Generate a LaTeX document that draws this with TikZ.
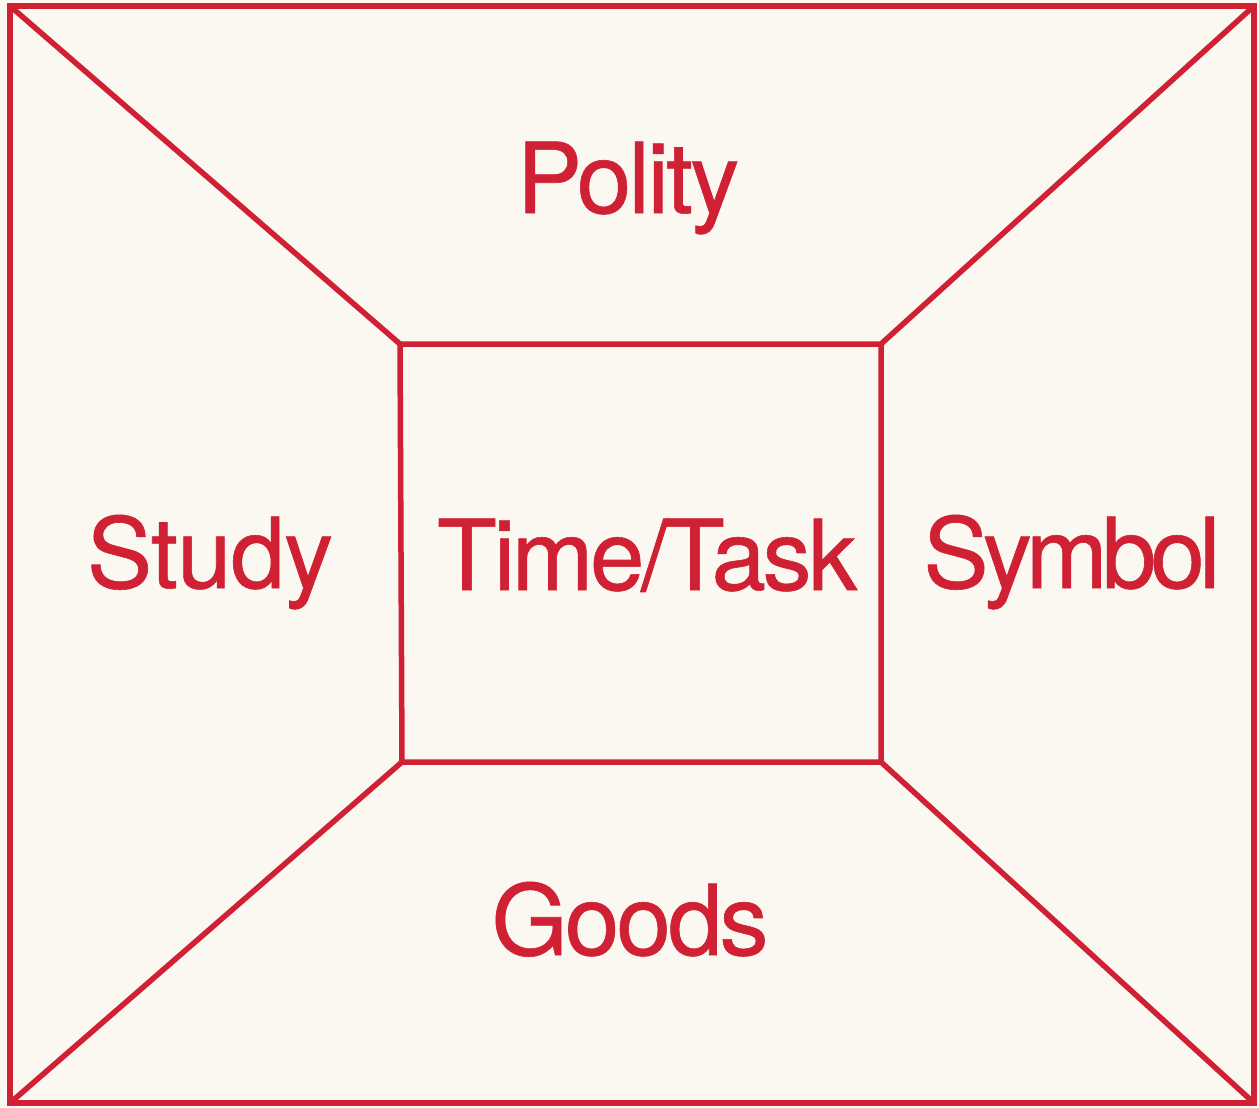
\documentclass[tikz,border=0pt]{standalone}
\usepackage{fontspec}
\setmainfont{TeX Gyre Heros}[FakeBold=0.6]
\definecolor{inkred}{RGB}{208,32,52}
\definecolor{paper}{RGB}{251,248,242}
\newcommand{\tracked}[2]{\addfontfeatures{LetterSpace=#1}#2}
\begin{document}
\begin{tikzpicture}[x=1pt,y=-1pt,
  frame/.style={draw=inkred,line width=5.5pt,line join=miter},
  label/.style={text=inkred,font=\fontsize{98}{98}\selectfont,anchor=base,inner sep=0pt}]
\fill[paper] (0,0) rectangle (1259,1108);
\useasboundingbox (0,0) rectangle (1259,1108);
% outer frame corners
\coordinate (o1) at (10,6);
\coordinate (o2) at (1254,6);
\coordinate (o3) at (1254,1103);
\coordinate (o4) at (10,1103);
% inner box corners
\coordinate (i1) at (400,344);
\coordinate (i2) at (881,344);
\coordinate (i3) at (881,762);
\coordinate (i4) at (402,762);
\draw[frame] (o1) -- (o2) -- (o3) -- (o4) -- cycle;
\draw[frame] (i1) -- (i2) -- (i3) -- (i4) -- cycle;
\draw[frame] (o1) -- (i1);
\draw[frame] (o2) -- (i2);
\draw[frame] (o3) -- (i3);
\draw[frame] (o4) -- (i4);
% labels
\node[label] (polity) at (628,213) {\tracked{-3}{Polity}};
\node[label] (study) at (210,588) {\tracked{-1}{Study}};
\node[label] (timetask) at (647,590) {\tracked{-3.5}{Time/Task}};
\node[label] (symbol) at (1072,588) {\tracked{-6}{Symbol}};
\node[label] (goods) at (630,955) {\tracked{-3}{Goods}};
\end{tikzpicture}
\end{document}
